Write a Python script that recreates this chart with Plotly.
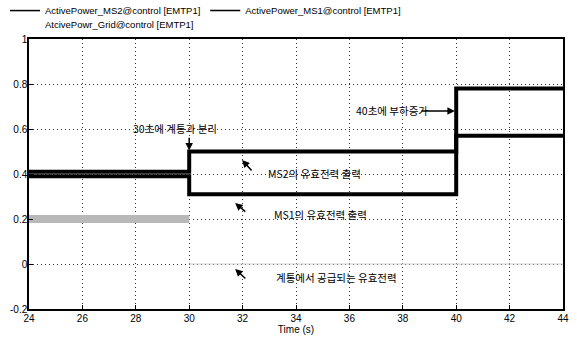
import plotly.graph_objects as go

# ---- data ----
ms_time = [24, 30, 30, 40, 40, 44]
ms2_power = [0.41, 0.41, 0.50, 0.50, 0.78, 0.78]
ms1_power = [0.39, 0.39, 0.31, 0.31, 0.57, 0.57]
grid_time_before = [24, 30]
grid_power_before = [0.2, 0.2]
grid_time_after = [30, 44]
grid_power_after = [0.0, 0.0]

x_ticks = [24, 26, 28, 30, 32, 34, 36, 38, 40, 42, 44]
y_ticks = [-0.2, 0, 0.2, 0.4, 0.6, 0.8, 1]
y_tick_text = ["-0.2", "0", "0.2", "0.4", "0.6", "0.8", "1"]

names = ["ActivePower_MS2@control [EMTP1]",
         "ActivePower_MS1@control [EMTP1]",
         "AtcivePowr_Grid@control [EMTP1]"]

FONT = "Liberation Sans, Arial, sans-serif"
KFONT = "Noto Sans CJK KR, sans-serif"

fig = go.Figure()
fig.add_trace(go.Scatter(x=ms_time, y=ms2_power, mode="lines", name=names[0],
                         showlegend=False, line=dict(color="black", width=4)))
fig.add_trace(go.Scatter(x=ms_time, y=ms1_power, mode="lines", name=names[1],
                         showlegend=False, line=dict(color="black", width=4)))
fig.add_trace(go.Scatter(x=grid_time_before, y=grid_power_before, mode="lines",
                         name=names[2], showlegend=False,
                         line=dict(color="#b8b8b8", width=8)))
fig.add_trace(go.Scatter(x=grid_time_after, y=grid_power_after, mode="lines",
                         showlegend=False, line=dict(color="#d0d0d0", width=1)))

# legend entries (thin symbols like the original)
fig.add_trace(go.Scatter(x=[None], y=[None], mode="lines", name=names[0],
                         line=dict(color="black", width=1.5), legend="legend"))
fig.add_trace(go.Scatter(x=[None], y=[None], mode="lines", name=names[1],
                         line=dict(color="black", width=1.5), legend="legend3"))
fig.add_trace(go.Scatter(x=[None], y=[None], mode="lines", name=names[2],
                         line=dict(color="rgba(255,255,255,0)", width=1.5), legend="legend2"))

leg_common = dict(orientation="h", xref="paper", xanchor="left", yref="paper",
                  yanchor="top", itemwidth=30, font=dict(size=9.5, family=FONT),
                  bgcolor="rgba(0,0,0,0)")

fig.update_layout(
    width=577, height=338,
    margin=dict(l=29, r=14, t=39, b=29, autoexpand=False),
    paper_bgcolor="white", plot_bgcolor="white",
    font=dict(family=FONT, size=10, color="black"),
    showlegend=True,
    legend=dict(x=-0.045, y=1.159, **leg_common),
    legend3=dict(x=0.33, y=1.159, **leg_common),
    legend2=dict(x=-0.045, y=1.107, **leg_common),
)

fig.update_xaxes(range=[24, 44], tickvals=x_ticks, ticks="inside", ticklen=4,
                 tickcolor="black", showline=True, linecolor="black", linewidth=1.5,
                 mirror=True, showgrid=True, gridcolor="#333", griddash="1px,3px",
                 gridwidth=1, zeroline=False, ticklabelstandoff=-1,
                 title=dict(text="Time (s)", font=dict(size=10), standoff=0),
                 tickfont=dict(size=10))
fig.update_yaxes(range=[-0.2, 1], tickvals=y_ticks, ticktext=y_tick_text,
                 ticks="inside", ticklen=4, tickcolor="black", showline=True,
                 linecolor="black", linewidth=1.5, mirror=True, showgrid=True,
                 gridcolor="#333", griddash="1px,3px", gridwidth=1, zeroline=False,
                 ticklabelstandoff=-2, tickfont=dict(size=10))

# text annotations
texts = [
    ("30초에 계통과 분리", 29.47, 0.604),
    ("40초에 부하증가", 37.6, 0.684),
    ("MS2의 유효전력 출력", 34.71, 0.404),
    ("MS1의 유효전력 출력", 34.9, 0.218),
    ("계통에서 공급되는 유효전력", 35.5, -0.058),
]
for t, x, y in texts:
    fig.add_annotation(x=x, y=y, text=t, showarrow=False,
                       font=dict(family=KFONT, size=10.5, color="black"))

arrows = [
    # (head x, head y, tail x, tail y)
    (30.0, 0.505, 30.0, 0.568),
    (39.95, 0.68, 38.64, 0.68),
    (31.98, 0.462, 32.39, 0.409),
    (31.72, 0.271, 32.16, 0.227),
    (31.72, -0.022, 32.16, -0.071),
]
for hx, hy, tx, ty in arrows:
    fig.add_annotation(x=hx, y=hy, ax=tx, ay=ty, xref="x", yref="y",
                       axref="x", ayref="y", text="", showarrow=True,
                       arrowhead=2, arrowsize=1, arrowwidth=1.5, arrowcolor="black")

fig.write_html("out.html", config={"displayModeBar": False},
               post_script="document.body.style.margin='0';document.body.style.padding='0';")
